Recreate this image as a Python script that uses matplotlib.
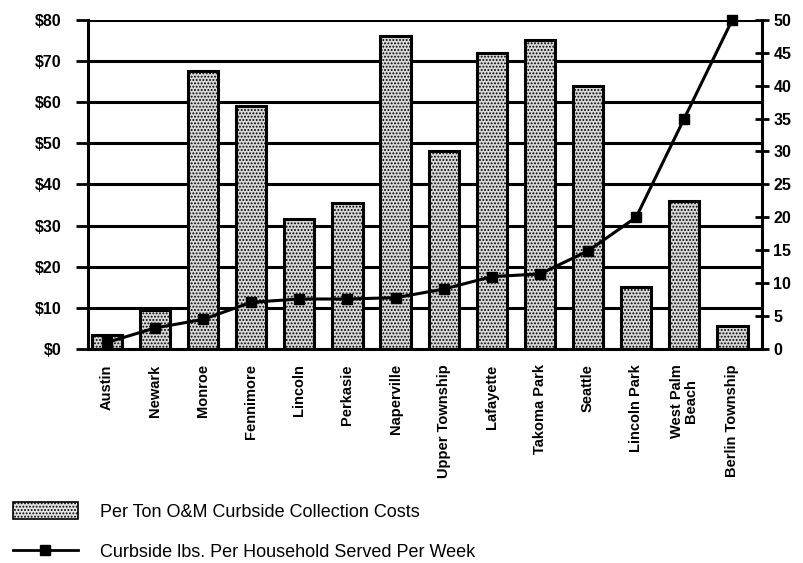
import numpy as np
import matplotlib
matplotlib.use("Agg")
import matplotlib.pyplot as plt
from matplotlib.patches import Patch
from matplotlib.lines import Line2D

plt.rcParams['font.family'] = ['Liberation Sans', 'DejaVu Sans']
plt.rcParams['hatch.linewidth'] = 0.9

# data
cities = ["Austin", "Newark", "Monroe", "Fennimore", "Lincoln", "Perkasie",
          "Naperville", "Upper Township", "Lafayette", "Takoma Park", "Seattle",
          "Lincoln Park", "West Palm\nBeach", "Berlin Township"]
cost_per_ton = [3.5, 9.5, 67.5, 59, 31.5, 35.5, 76, 48, 72, 75, 64, 15, 36, 5.5]
lbs_per_week = [1.0, 3.2, 4.5, 7.1, 7.6, 7.6, 7.8, 9.1, 11.0, 11.4, 14.9, 20, 35, 50]

left_ticks = [0, 10, 20, 30, 40, 50, 60, 70, 80]
right_ticks = [0, 5, 10, 15, 20, 25, 30, 35, 40, 45, 50]

fig = plt.figure(figsize=(8.04, 5.63), dpi=100)
ax = fig.add_axes([0.109, 0.380, 0.839, 0.585])
x = np.arange(len(cities))

# gridlines behind bars
for t in left_ticks:
    ax.axhline(t, color='black', lw=2.2, zorder=1)

ax.bar(x, cost_per_ton, width=0.63, facecolor='#d9d9d9', edgecolor='black',
       hatch='.....', linewidth=2.2, zorder=2)

ax.set_xlim(-0.4, 13.62)
ax.set_ylim(0, 80)
ax.set_yticks(left_ticks)
ax.set_yticklabels([f"${t}" for t in left_ticks], fontsize=11.5, fontweight='bold')
ax.tick_params(axis='y', length=9, width=2, direction='out', pad=10)
ax.set_xticks(x)
ax.set_xticklabels(cities, rotation=90, fontsize=10.5, fontweight='bold',
                   va='top', ha='center', linespacing=1.0)
ax.tick_params(axis='x', length=0, pad=11)
for s in ['top', 'right']:
    ax.spines[s].set_visible(False)
ax.spines['left'].set_linewidth(2.2)
ax.spines['bottom'].set_linewidth(2.2)

ax2 = ax.twinx()
ax2.plot(x, lbs_per_week, color='black', lw=2.2, marker='s', markersize=7,
         zorder=5, clip_on=False)
ax2.set_ylim(0, 50)
ax2.set_yticks(right_ticks)
ax2.set_yticklabels([str(t) for t in right_ticks], fontsize=11.5, fontweight='bold')
ax2.tick_params(axis='y', length=10, width=2, direction='inout', pad=3)
for s in ['top', 'left', 'bottom']:
    ax2.spines[s].set_visible(False)
ax2.spines['right'].set_linewidth(2.2)

handles = [
    Patch(facecolor='#e4e4e4', edgecolor='black', hatch='.....', linewidth=1.2),
    Line2D([0], [0], color='black', lw=2, marker='s', markersize=7),
]
labels = ["Per Ton O&M Curbside Collection Costs",
          "Curbside lbs. Per Household Served Per Week"]
fig.legend(handles, labels, loc='upper left', bbox_to_anchor=(0.016, 0.108),
           frameon=False, fontsize=13, handlelength=3.6, handleheight=1.05,
           labelspacing=1.2, handletextpad=1.2, borderpad=0, borderaxespad=0)

fig.savefig("out.png", dpi=100)
